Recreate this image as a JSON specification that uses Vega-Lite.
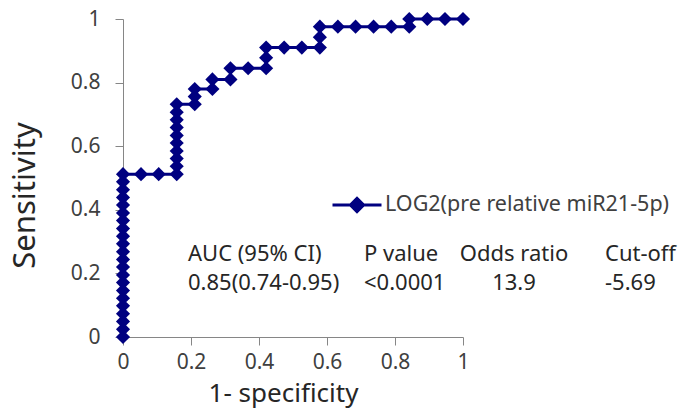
{
  "$schema": "https://vega.github.io/schema/vega-lite/v6.json",
  "width": 340,
  "height": 318,
  "autosize": "none",
  "padding": {"left": 123, "top": 19, "right": 218, "bottom": 72},
  "background": "white",
  "config": {
    "view": {"stroke": null},
    "font": "Noto Sans",
    "axis": {
      "grid": false,
      "domainColor": "#868686",
      "tickColor": "#868686",
      "tickSize": 8,
      "labelFlush": false,
      "labelFont": "Noto Sans",
      "labelFontSize": 21,
      "labelColor": "#404040",
      "titleFont": "Noto Sans",
      "titleFontSize": 26,
      "titleFontWeight": "normal",
      "titleColor": "#262626"
    }
  },
  "resolve": {"scale": {"x": "independent", "y": "independent"}},
  "layer": [
    {
      "data": {
        "values": [
          {"i": 1, "fpr": 0, "tpr": 0},
          {"i": 2, "fpr": 0, "tpr": 0.024},
          {"i": 3, "fpr": 0, "tpr": 0.049},
          {"i": 4, "fpr": 0, "tpr": 0.073},
          {"i": 5, "fpr": 0, "tpr": 0.098},
          {"i": 6, "fpr": 0, "tpr": 0.122},
          {"i": 7, "fpr": 0, "tpr": 0.146},
          {"i": 8, "fpr": 0, "tpr": 0.171},
          {"i": 9, "fpr": 0, "tpr": 0.195},
          {"i": 10, "fpr": 0, "tpr": 0.22},
          {"i": 11, "fpr": 0, "tpr": 0.244},
          {"i": 12, "fpr": 0, "tpr": 0.268},
          {"i": 13, "fpr": 0, "tpr": 0.293},
          {"i": 14, "fpr": 0, "tpr": 0.317},
          {"i": 15, "fpr": 0, "tpr": 0.341},
          {"i": 16, "fpr": 0, "tpr": 0.366},
          {"i": 17, "fpr": 0, "tpr": 0.39},
          {"i": 18, "fpr": 0, "tpr": 0.415},
          {"i": 19, "fpr": 0, "tpr": 0.439},
          {"i": 20, "fpr": 0, "tpr": 0.463},
          {"i": 21, "fpr": 0, "tpr": 0.488},
          {"i": 22, "fpr": 0, "tpr": 0.512},
          {"i": 23, "fpr": 0.053, "tpr": 0.512},
          {"i": 24, "fpr": 0.105, "tpr": 0.512},
          {"i": 25, "fpr": 0.158, "tpr": 0.512},
          {"i": 26, "fpr": 0.158, "tpr": 0.537},
          {"i": 27, "fpr": 0.158, "tpr": 0.561},
          {"i": 28, "fpr": 0.158, "tpr": 0.585},
          {"i": 29, "fpr": 0.158, "tpr": 0.61},
          {"i": 30, "fpr": 0.158, "tpr": 0.634},
          {"i": 31, "fpr": 0.158, "tpr": 0.659},
          {"i": 32, "fpr": 0.158, "tpr": 0.683},
          {"i": 33, "fpr": 0.158, "tpr": 0.707},
          {"i": 34, "fpr": 0.158, "tpr": 0.732},
          {"i": 35, "fpr": 0.211, "tpr": 0.732},
          {"i": 36, "fpr": 0.211, "tpr": 0.756},
          {"i": 37, "fpr": 0.211, "tpr": 0.78},
          {"i": 38, "fpr": 0.263, "tpr": 0.78},
          {"i": 39, "fpr": 0.263, "tpr": 0.81},
          {"i": 40, "fpr": 0.316, "tpr": 0.81},
          {"i": 41, "fpr": 0.316, "tpr": 0.845},
          {"i": 42, "fpr": 0.368, "tpr": 0.845},
          {"i": 43, "fpr": 0.421, "tpr": 0.845},
          {"i": 44, "fpr": 0.421, "tpr": 0.878},
          {"i": 45, "fpr": 0.421, "tpr": 0.91},
          {"i": 46, "fpr": 0.474, "tpr": 0.91},
          {"i": 47, "fpr": 0.526, "tpr": 0.91},
          {"i": 48, "fpr": 0.579, "tpr": 0.91},
          {"i": 49, "fpr": 0.579, "tpr": 0.943},
          {"i": 50, "fpr": 0.579, "tpr": 0.976},
          {"i": 51, "fpr": 0.632, "tpr": 0.976},
          {"i": 52, "fpr": 0.684, "tpr": 0.976},
          {"i": 53, "fpr": 0.737, "tpr": 0.976},
          {"i": 54, "fpr": 0.789, "tpr": 0.976},
          {"i": 55, "fpr": 0.842, "tpr": 0.976},
          {"i": 56, "fpr": 0.842, "tpr": 1},
          {"i": 57, "fpr": 0.895, "tpr": 1},
          {"i": 58, "fpr": 0.947, "tpr": 1},
          {"i": 59, "fpr": 1, "tpr": 1}
        ]
      },
      "mark": {
        "type": "line",
        "strokeWidth": 3,
        "point": {"shape": "diamond", "size": 200, "filled": true, "opacity": 1}
      },
      "encoding": {
        "x": {
          "field": "fpr",
          "type": "quantitative",
          "scale": {"domain": [0, 1], "nice": false, "zero": false},
          "axis": {
            "title": "1- specificity",
            "values": [0, 0.2, 0.4, 0.6, 0.8, 1],
            "format": "~g",
            "labelPadding": 6,
            "titleX": 160,
            "titleY": 56,
            "titleBaseline": "middle",
            "titleAlign": "center"
          }
        },
        "y": {
          "field": "tpr",
          "type": "quantitative",
          "scale": {"domain": [0, 1], "nice": false, "zero": false},
          "axis": {
            "title": "Sensitivity",
            "values": [0, 0.2, 0.4, 0.6, 0.8, 1],
            "format": "~g",
            "labelPadding": 15,
            "titleFontSize": 31,
            "titleX": -98,
            "titleY": 176,
            "titleBaseline": "middle",
            "titleAlign": "center"
          }
        },
        "order": {"field": "i", "type": "quantitative"},
        "color": {
          "datum": "LOG2(pre relative miR21-5p)",
          "type": "nominal",
          "scale": {"range": ["#000080"]},
          "legend": {
            "title": null,
            "orient": "none",
            "legendX": 208,
            "legendY": 160,
            "padding": 0,
            "symbolType": "M-1,0H1M-0.27,0L0,-0.27L0.27,0L0,0.27Z",
            "symbolSize": 2401,
            "symbolStrokeWidth": 3,
            "symbolStrokeColor": "#000080",
            "symbolFillColor": "#000080",
            "symbolOpacity": 1,
            "labelFont": "Noto Sans",
            "labelFontSize": 21.5,
            "labelColor": "#404040",
            "labelOffset": 2,
            "labelLimit": 400,
            "encode": {"symbols": {"update": {"fill": {"value": "#000080"}, "stroke": {"value": "#000080"}}}}
          }
        }
      }
    },
    {
      "data": {
        "values": [
          {"col": 1, "row": 1, "label": "AUC (95% CI)"},
          {"col": 2, "row": 1, "label": "P value"},
          {"col": 3, "row": 1, "label": "Odds ratio"},
          {"col": 4, "row": 1, "label": "Cut-off"},
          {"col": 1, "row": 2, "label": "0.85(0.74-0.95)"},
          {"col": 2, "row": 2, "label": "<0.0001"},
          {"col": 3, "row": 2, "label": "13.9"},
          {"col": 4, "row": 2, "label": "-5.69"}
        ]
      },
      "encoding": {
        "x": {"field": "col", "type": "quantitative", "scale": {"domain": [1, 2, 3, 4], "range": [65, 241, 391, 482]}, "axis": null},
        "y": {"field": "row", "type": "quantitative", "scale": {"domain": [1, 2], "range": [235, 264]}, "axis": null},
        "text": {"field": "label"}
      },
      "layer": [
        {
          "transform": [{"filter": "datum.col != 3"}],
          "mark": {"type": "text", "align": "left", "baseline": "middle", "font": "Noto Sans", "fontSize": 22, "color": "#262626"}
        },
        {
          "transform": [{"filter": "datum.col == 3"}],
          "mark": {"type": "text", "align": "center", "baseline": "middle", "font": "Noto Sans", "fontSize": 22, "color": "#262626"}
        }
      ]
    }
  ]
}
